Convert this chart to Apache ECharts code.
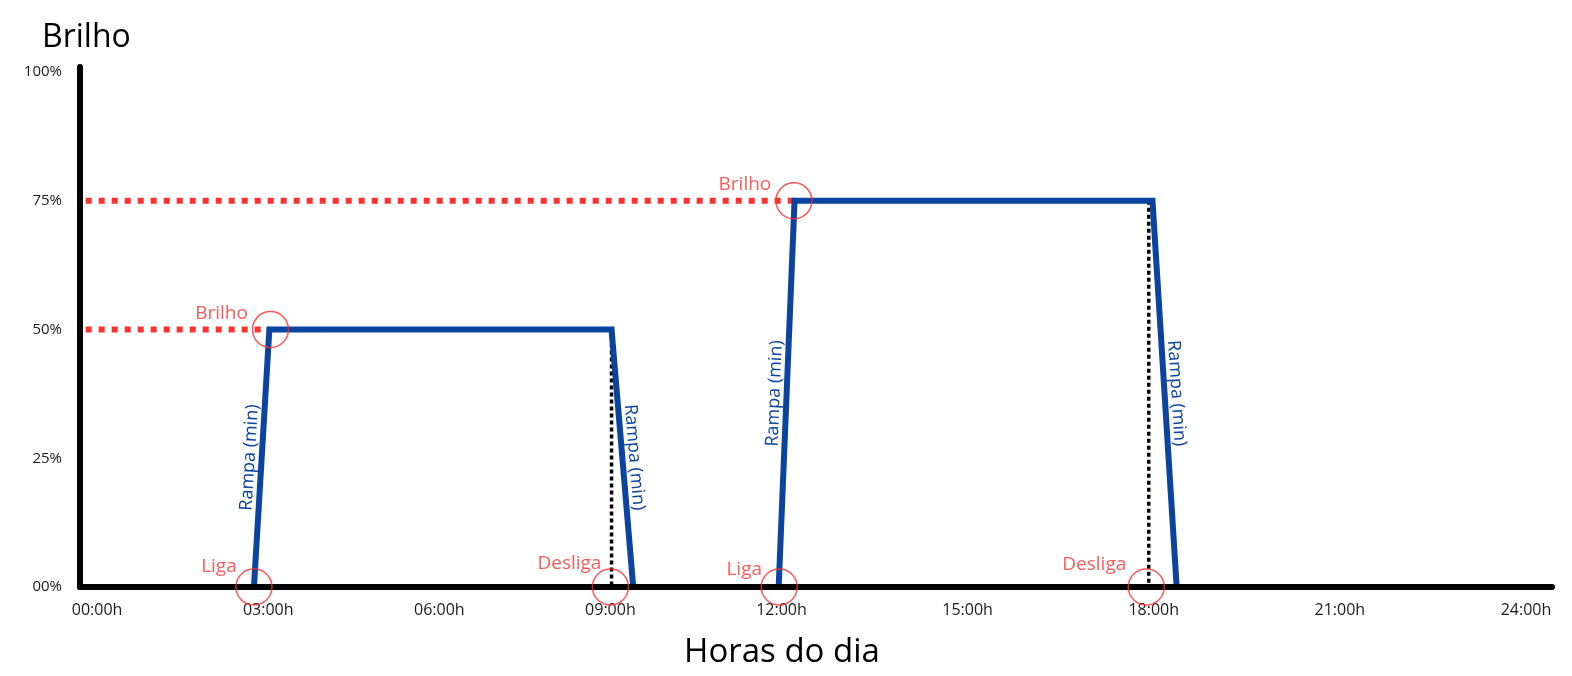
<!DOCTYPE html>
<html>
<head>
<meta charset="utf-8">
<script src="https://cdn.jsdelivr.net/npm/echarts@6/dist/echarts.min.js"></script>
<style>
html,body{margin:0;padding:0;background:#fff;}
#c{width:1572px;height:676px;}
</style>
</head>
<body>
<div id="c"></div>
<script>
// ---- data (hours of the day, brightness %) ----
const xTickHours = [0, 3, 6, 9, 12, 15, 18, 21, 24];
const xTickLabels = ['00:00h', '03:00h', '06:00h', '09:00h', '12:00h', '15:00h', '18:00h', '21:00h', '24:00h'];
const yTickValues = [0, 25, 50, 75, 100];
const yTickLabels = ['00%', '25%', '50%', '75%', '100%'];

const pulse1Hours = [2.75, 3.02, 9.02, 9.40];
const pulse1Level = [0, 50, 50, 0];
const pulse2Hours = [11.95, 12.21, 17.98, 18.37];
const pulse2Level = [0, 75, 75, 0];

const guideStartHour = -0.2;          // red dotted "Brilho" guides start
const offDottedHours = [9.02, 17.92]; // black dotted "Desliga" drops

const markerNames = ['Liga', 'Brilho', 'Desliga', 'Liga', 'Brilho', 'Desliga'];
const markerHours = [2.75, 3.04, 9.0, 11.96, 12.2, 17.88];
const markerLevels = [0, 50, 0, 0, 75, 0];

const rampLabel = 'Rampa (min)';
const xAxisTitle = 'Horas do dia';
const yAxisTitle = 'Brilho';

// ---- drawing ----
const FONT = "'Open Sans', 'Noto Sans', sans-serif";
const RED = '#ff3030';
const BLUE = '#0a43a0';

// the drawn time axis is stretched after noon
const SPLIT_H = 12, STRETCH = 62 / 57;
const warp = h => h <= SPLIT_H ? h : SPLIT_H + (h - SPLIT_H) * STRETCH;
const pts = (hs, vs) => hs.map((h, i) => [warp(h), vs[i]]);

const xTickPos = xTickHours.map(warp);
const xLabelFor = v => {
  let best = 0;
  xTickPos.forEach((p, i) => { if (Math.abs(p - v) < Math.abs(xTickPos[best] - v)) best = i; });
  return xTickLabels[best];
};
const yLabelFor = v => {
  let best = 0;
  yTickValues.forEach((p, i) => { if (Math.abs(p - v) < Math.abs(yTickValues[best] - v)) best = i; });
  return yTickLabels[best];
};

const pulses = [[pulse1Hours, pulse1Level], [pulse2Hours, pulse2Level]];

const series = [];

// red dotted brightness guides
pulses.forEach(([hs, vs]) => {
  series.push({
    type: 'line', symbol: 'none', silent: true, z: 2,
    data: [[warp(guideStartHour), vs[1]], [warp(hs[1]), vs[1]]],
    lineStyle: { color: RED, width: 6, type: [6, 7], cap: 'butt' }
  });
});

// black dotted off-drops
pulses.forEach(([hs, vs], i) => {
  series.push({
    type: 'line', symbol: 'none', silent: true, z: 3,
    data: [[warp(offDottedHours[i]), vs[2]], [warp(offDottedHours[i]), 0]],
    lineStyle: { color: '#000', width: 3.5, type: [4, 3], cap: 'butt' }
  });
});

// blue pulses with ramp labels
pulses.forEach(([hs, vs]) => {
  const p = pts(hs, vs);
  series.push({
    type: 'line', symbol: 'none', silent: true, z: 4,
    data: p,
    lineStyle: { color: BLUE, width: 6, join: 'miter', cap: 'butt' },
    markLine: {
      silent: true, symbol: ['none', 'none'], animation: false,
      lineStyle: { color: 'rgba(0,0,0,0)', width: 0 },
      label: {
        show: true, position: 'insideMiddleTop', formatter: rampLabel,
        color: BLUE, fontSize: 18, fontFamily: FONT, distance: 3
      },
      emphasis: { disabled: true },
      data: [
        [{ coord: p[0] }, { coord: p[1] }],
        [{ coord: p[2] }, { coord: p[3] }]
      ]
    }
  });
});

// red circles with names
const labelOffsets = [[-35, -20], [-49, -16], [-41, -23], [-35, -17], [-49, -16], [-52, -22]];
series.push({
  type: 'scatter', silent: true, z: 6,
  symbol: 'circle', symbolSize: 36,
  itemStyle: { color: 'rgba(0,0,0,0)', borderColor: RED, borderWidth: 1.5 },
  data: markerHours.map((h, i) => ({
    name: markerNames[i],
    value: [warp(h), markerLevels[i]],
    label: { offset: labelOffsets[i] }
  })),
  label: {
    show: true, position: 'inside', formatter: '{b}',
    color: RED, fontSize: 19, fontFamily: FONT
  }
});

const chart = echarts.init(document.getElementById('c'));
chart.setOption({
  animation: false,
  backgroundColor: '#fff',
  title: {
    text: yAxisTitle, left: 37, top: 17,
    textStyle: { fontSize: 32, fontWeight: 'normal', color: '#000', fontFamily: FONT }
  },
  grid: { left: 80, right: 20, top: 67, bottom: 89, containLabel: false },
  xAxis: {
    type: 'value',
    min: warp(-0.3), max: warp(24.42),
    z: 5,
    name: xAxisTitle, nameLocation: 'middle', nameGap: 49,
    nameTextStyle: { fontSize: 33, color: '#000', fontFamily: FONT, padding: [0, 68, 0, 0] },
    axisLine: { show: true, onZero: false, lineStyle: { color: '#000', width: 6 } },
    axisTick: { show: false },
    splitLine: { show: false },
    axisLabel: {
      customValues: xTickPos, formatter: xLabelFor,
      margin: 15, fontSize: 16, color: '#1a1a1a', fontFamily: FONT,
      showMinLabel: true, showMaxLabel: true
    }
  },
  yAxis: {
    type: 'value', min: 0, max: 101,
    z: 5,
    axisLine: { show: true, onZero: false, lineStyle: { color: '#000', width: 6 } },
    axisTick: { show: false },
    splitLine: { show: false },
    axisLabel: {
      customValues: yTickValues, formatter: yLabelFor,
      margin: 18, fontSize: 15, color: '#1a1a1a', fontFamily: FONT
    }
  },
  series: series
});
</script>
</body>
</html>
